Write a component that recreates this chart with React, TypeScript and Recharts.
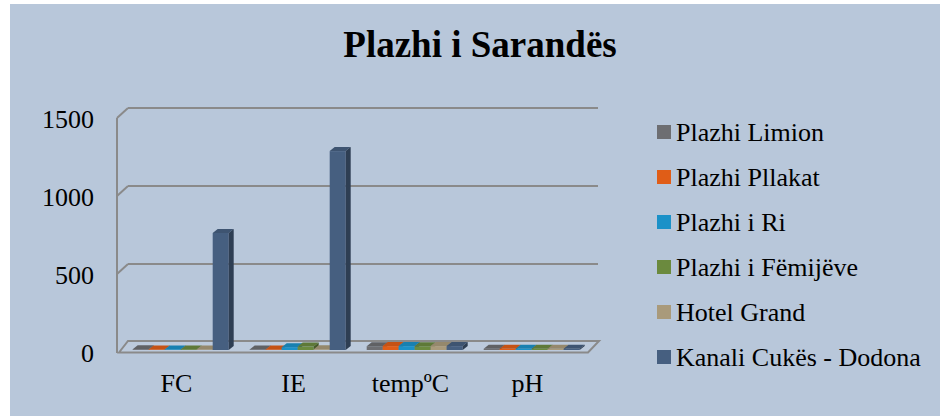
import React from "react";
import { BarChart, Bar, XAxis, YAxis, CartesianGrid, Legend } from "recharts";

const categories = ["FC", "IE", "tempºC", "pH"];
const seriesNames = [
  "Plazhi Limion",
  "Plazhi Pllakat",
  "Plazhi i Ri",
  "Plazhi i Fëmijëve",
  "Hotel Grand",
  "Kanali Cukës - Dodona",
];
const plazhiLimion = [5, 3, 24, 7.8];
const plazhiPllakat = [2, 2, 25, 8];
const plazhiRi = [3, 18, 25, 8];
const plazhiFemijeve = [4, 22, 24, 8];
const hotelGrand = [3, 5, 25, 8];
const kanaliCukes = [750, 1275, 25, 7.5];
const yTicks = [0, 500, 1000, 1500];

const seriesValues = [plazhiLimion, plazhiPllakat, plazhiRi, plazhiFemijeve, hotelGrand, kanaliCukes];
const colors = ["#6d6e72", "#e05d17", "#1b91c8", "#6b8a3e", "#a99a7b", "#465f80"];

const data = categories.map((c, i) => {
  const row: any = { name: c };
  seriesValues.forEach((s, k) => (row["s" + k] = s[i]));
  return row;
});

const FONT = "'Liberation Serif', 'Times New Roman', serif";
const PLOT_TOP = 116;
const PLOT_LEFT = 121;
const PLOT_RIGHT = 589;
const BACK_DX = 9;
const BACK_DY = 8;
const GRID = "#8a8a8a";

function shade(hex: string, f: number) {
  const n = parseInt(hex.slice(1), 16);
  let r = (n >> 16) & 255, g = (n >> 8) & 255, b = n & 255;
  r = Math.round(r * (1 + f));
  g = Math.round(g * (1 + f));
  b = Math.round(b * (1 + f));
  return `rgb(${r},${g},${b})`;
}

const Bar3D = (props: any) => {
  const { x, y, width, height, fill } = props;
  if (x == null || y == null) return null;
  const d = 5, e = 4;
  const h = Math.max(height, 0.6);
  const yy = y + height - h;
  return (
    <g>
      <rect x={x} y={yy} width={width} height={h} fill={fill} />
      <polygon
        points={`${x},${yy} ${x + d},${yy - e} ${x + width + d},${yy - e} ${x + width},${yy}`}
        fill={shade(fill, -0.12)}
      />
      <polygon
        points={`${x + width},${yy} ${x + width + d},${yy - e} ${x + width + d},${yy + h - e} ${x + width},${yy + h}`}
        fill={shade(fill, -0.35)}
      />
    </g>
  );
};

const gridLine = (p: any) => {
  const { y1, x1, x2 } = p;
  const yb = y1 - BACK_DY;
  const lx = x1 - 4;
  const isBottom = Math.abs(y1 - 350) < 1;
  const isTop = Math.abs(y1 - PLOT_TOP) < 1;
  return (
    <g key={p.key}>
      {!isBottom && (
        <>
          <line x1={x1 + 7} y1={yb} x2={x2 + BACK_DX} y2={yb} stroke={GRID} strokeWidth={2} />
          <line x1={lx} y1={y1 + 2} x2={x1 + 7} y2={yb} stroke={GRID} strokeWidth={2} />
        </>
      )}
      {isTop && <line x1={lx} y1={y1 + 2} x2={lx} y2={353} stroke={GRID} strokeWidth={2} />}
      {isBottom && (
        <polygon
          points={`${lx + 2},${y1 + 2.5} ${x1 + 7},${yb - 1} ${x2 + BACK_DX + 1},${yb - 1} ${x2 - 1},${y1 + 2.5}`}
          fill="#bccadc"
          stroke={GRID}
          strokeWidth={2}
        />
      )}
    </g>
  );
};

const YTick = (p: any) => (
  <text x={94} y={p.y + 11.5} textAnchor="end" fontFamily={FONT} fontSize={26} fill="#000">
    {p.payload.value}
  </text>
);

const XTick = (p: any) => (
  <text x={p.x - 3} y={392} textAnchor="middle" fontFamily={FONT} fontSize={26} fill="#000">
    {p.payload.value}
  </text>
);

const LegendContent = (props: any) => {
  const payload = [...(props.payload || [])].sort(
    (a: any, b: any) => seriesNames.indexOf(a.value) - seriesNames.indexOf(b.value)
  );
  return (
    <svg width={290} height={270} style={{ display: "block" }}>
      {payload.map((it: any, i: number) => (
        <g key={i}>
          <rect x={7} y={15 + i * 45} width={14} height={14} fill={it.color} />
          <text x={26} y={30.7 + i * 45} fontFamily={FONT} fontSize={26} fill="#000">
            {it.value}
          </text>
        </g>
      ))}
    </svg>
  );
};

export default function App() {
  return (
    <div style={{ position: "absolute", left: 0, top: 0, width: 940, height: 416, background: "#fff" }}>
      <div style={{ position: "absolute", left: 10, top: 4, width: 930, height: 412, background: "#b8c7da" }} />
      <div style={{ position: "absolute", left: 0, top: 0 }}>
        <BarChart
          width={940}
          height={416}
          data={data}
          margin={{ top: PLOT_TOP, left: PLOT_LEFT - 60, right: 940 - PLOT_RIGHT, bottom: 36 }}
          barCategoryGap="10%"
          barGap={0}
        >
          <CartesianGrid horizontal={gridLine} vertical={false} />
          <XAxis dataKey="name" height={30} axisLine={false} tickLine={false} tick={XTick} interval={0} />
          <YAxis
            width={60}
            domain={[0, 1500]}
            ticks={yTicks}
            axisLine={false}
            tickLine={false}
            tick={YTick}
            interval={0}
          />
          <Legend
            layout="horizontal"
            verticalAlign="middle"
            align="center"
            content={LegendContent}
            wrapperStyle={{ left: 650, top: 110, width: 290, height: 270 }}
          />
          {seriesNames.map((n, k) => (
            <Bar
              key={n}
              dataKey={"s" + k}
              name={n}
              fill={colors[k]}
              shape={Bar3D}
              isAnimationActive={false}
            />
          ))}
        </BarChart>
      </div>
      <svg
        width={940}
        height={416}
        style={{ position: "absolute", left: 0, top: 0, pointerEvents: "none" }}
      >
        <text x={480} y={57} textAnchor="middle" fontFamily={FONT} fontSize={37} fontWeight="bold" fill="#000">
          Plazhi i Sarandës
        </text>
      </svg>
    </div>
  );
}
